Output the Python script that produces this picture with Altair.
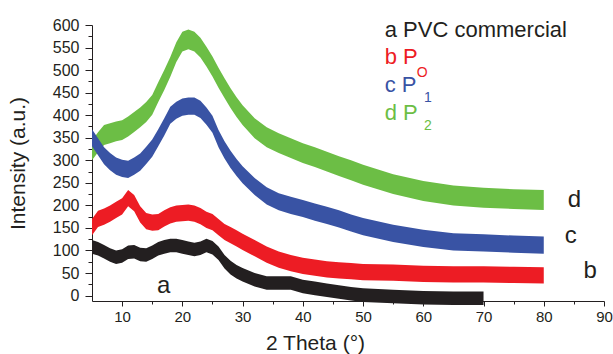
import altair as alt
import pandas as pd

# 2-theta grid (degrees)
theta = [5, 6, 7, 8, 9, 10, 11, 12, 13, 14, 15, 16, 17, 18, 19, 20, 21, 22, 23, 24, 25,
         26, 27, 28, 29, 30, 32, 34, 36, 38, 40, 42, 44, 46, 48, 50, 55, 60, 65, 70, 75, 80]

# centre of each noisy pattern
d_p2 = [322, 340, 356, 360, 364, 367, 375, 385, 395, 407, 423, 451, 478, 507, 540, 563, 568,
        563, 550, 530, 508, 483, 460, 438, 418, 400, 371, 351, 338, 327, 316, 307, 297, 287,
        278, 268, 247, 232, 222, 217, 214, 212]
c_p1 = [350, 330, 310, 297, 287, 282, 280, 287, 296, 311, 327, 350, 374, 400, 411, 418, 420,
        420, 413, 398, 380, 348, 323, 302, 284, 268, 242, 221, 208, 200, 193, 185, 178, 170,
        161, 153, 138, 127, 119, 117, 114, 112]
b_p0 = [152, 170, 175, 182, 190, 198, 216, 205, 180, 165, 162, 163, 171, 178, 182, 183, 184,
        182, 176, 168, 163, 152, 141, 134, 127, 119, 105, 91, 80, 72, 66, 62, 58, 56, 54, 52,
        51, 48, 47, 47, 46, 45]
theta_a = theta[:40]
a_pvc = [108, 104, 97, 90, 85, 88, 96, 97, 91, 90, 96, 104, 108, 111, 111, 108, 105, 102,
         105, 111, 106, 94, 75, 62, 53, 46, 35, 28, 28, 28, 20, 16, 12, 8, 4, 1, -2, -5, -6, -6]

# noise half-width of each pattern (a.u.)
noise = {"d": 22, "c": 19, "b": 18, "a": 15}

x_major = [10, 20, 30, 40, 50, 60, 70, 80, 90]
x_minor = [15, 25, 35, 45, 55, 65, 75, 85]
y_major = list(range(0, 650, 50))
y_minor = list(range(25, 600, 50))

colors = {"a": "#231f20", "b": "#ed1c24", "c": "#3953a4", "d": "#6cbe45"}
FONT = "Liberation Sans"
INK = "#231f20"

xscale = alt.Scale(domain=[5, 90], nice=False, zero=False)
yscale = alt.Scale(domain=[-12, 600], nice=False, zero=False)

x_axis = alt.Axis(
    values=x_major, title="2 Theta (°)", grid=False, orient="bottom", tickSize=5,
    labelFont=FONT, labelFontSize=15, labelColor=INK, labelPadding=3,
    titleFont=FONT, titleFontSize=21, titleFontWeight="normal", titleColor=INK,
    titleX=223, titleY=48, titleAlign="center", titleBaseline="alphabetic",
    domainColor=INK, tickColor=INK, labelFlush=False, labelOverlap=False,
)
y_axis = alt.Axis(
    values=y_major, title="Intensity (a.u.)", grid=False, orient="left", tickSize=7,
    labelFont=FONT, labelFontSize=16, labelColor=INK, labelPadding=6,
    titleFont=FONT, titleFontSize=21, titleFontWeight="normal", titleColor=INK,
    titleX=-74, titleY=138, titleAngle=-90, titleAlign="center", titleBaseline="middle",
    domainColor=INK, tickColor=INK, labelFlush=False, labelOverlap=False,
)
x_axis_minor = alt.Axis(values=x_minor, orient="bottom", labels=False, title=None,
                        grid=False, domain=False, tickSize=3, tickColor=INK)
y_axis_minor = alt.Axis(values=y_minor, orient="left", labels=False, title=None,
                        grid=False, domain=False, tickSize=4, tickColor=INK)


def band(xs, ys, key, xa=None, ya=None, opacity=1.0):
    hw = noise[key]
    df = pd.DataFrame({"x": xs, "lo": [v - hw for v in ys], "hi": [v + hw for v in ys]})
    return alt.Chart(df).mark_area(color=colors[key], opacity=opacity).encode(
        x=alt.X("x:Q", scale=xscale, axis=xa),
        y=alt.Y("lo:Q", scale=yscale, axis=ya),
        y2="hi:Q",
    )


# annotations (legend and curve letters)
ann_text = ["a PVC commercial", "b P", "c P", "d P", "O", "1", "2", "a", "b", "c", "d"]
ann_x = [53.6, 53.6, 53.6, 53.6, 58.9, 60.1, 60.1, 15.8, 86.6, 83.5, 84.0]
ann_y = [573, 513, 451, 389, 484, 429, 367, 5, 38, 116, 196]
ann_key = ["a", "b", "c", "d", "b", "c", "d", "a", "a", "a", "a"]
ann_size = [22, 22, 22, 22, 14, 14, 14, 24, 24, 24, 24]

ann_df = pd.DataFrame({"x": ann_x, "y": ann_y, "t": ann_text,
                       "col": [colors[k] for k in ann_key], "fs": ann_size})
ann = alt.Chart(ann_df).mark_text(align="left", baseline="alphabetic", font=FONT).encode(
    x=alt.X("x:Q", scale=xscale, axis=None),
    y=alt.Y("y:Q", scale=yscale, axis=None),
    text="t:N",
    color=alt.Color("col:N", scale=None),
    size=alt.Size("fs:Q", scale=None),
)

chart = alt.layer(
    band(theta, d_p2, "d", xa=x_axis_minor, ya=y_axis_minor, opacity=0.0),
    band(theta, d_p2, "d", xa=x_axis, ya=y_axis),
    band(theta, c_p1, "c"),
    band(theta, b_p0, "b"),
    band(theta_a, a_pvc, "a"),
    ann,
).resolve_axis(x="independent", y="independent").properties(
    width=512, height=276,
    autosize=alt.AutoSizeParams(type="none"),
    padding={"left": 92, "top": 25, "right": 9, "bottom": 53},
).configure(background="white").configure_view(stroke=None)

chart.save("out.html", embed_options={"renderer": "svg", "actions": False})
